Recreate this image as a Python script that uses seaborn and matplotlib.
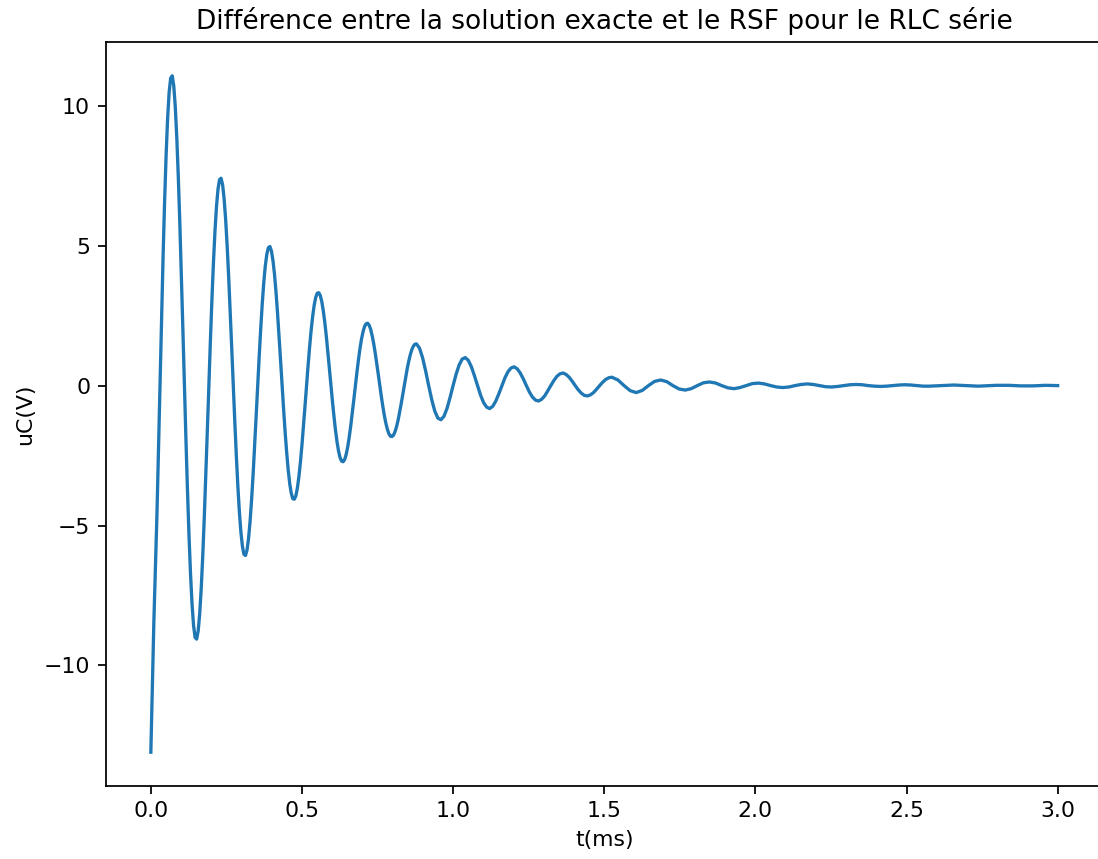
import numpy as np
import pandas as pd
import matplotlib
matplotlib.use("Agg")
import matplotlib.pyplot as plt
import seaborn as sns

# ---- data (t in ms, uC in V) ----
# fine sampling for the large first oscillations
dt_fine = 0.00505
t_fine_start = 0.0
uc_fine = [
    -13.1, -10.75, -8.4, -6.5, -4.6, -2.3, 0.0, 2.36, 4.57, 6.55, 8.23, 9.56, 10.49, 10.99,
    11.07, 10.72, 9.97, 8.86, 7.44, 5.78, 3.93, 1.98, 0.0, -1.93, -3.74, -5.36, -6.73, -7.82, -8.58, -9.00,
    -9.06, -8.77, -8.16, -7.25, -6.09, -4.73, -3.22, -1.62, 0.0, 1.58, 3.06, 4.38, 5.51, 6.40, 7.02, 7.36,
    7.41, 7.18, 6.68, 5.94, 4.99, 3.87, 2.63, 1.33, 0.0, -1.29, -2.50, -3.59, -4.51, -5.24, -5.75, -6.03,
    -6.07, -5.88, -5.47, -4.86, -4.08, -3.17, -2.15, -1.08, 0.0, 1.06, 2.05, 2.94, 3.69, 4.29, 4.70, 4.93,
    4.97, 4.81, 4.47, 3.98, 3.34, 2.59, 1.76, 0.89, 0.0, -0.87, -1.68, -2.40, -3.02, -3.51, -3.85, -4.04,
    -4.06, -3.94, -3.66, -3.25, -2.73, -2.12, -1.44, -0.73, 0.0, 0.71, 1.37, 1.97, 2.47, 2.87, 3.15, 3.30,
    3.32, 3.22, 3.00, 2.66, 2.24, 1.74, 1.18, 0.59, 0.0, -0.58, -1.12, -1.61, -2.02, -2.35, -2.58, -2.70,
    -2.72, -2.64, -2.45, -2.18, -1.83, -1.42, -0.97, -0.49, 0.0, 0.47, 0.92, 1.32, 1.66, 1.92, 2.11, 2.21,
    2.23, 2.16, 2.01, 1.78, 1.50, 1.16, 0.79, 0.40, 0.0, -0.39, -0.75, -1.08, -1.35, -1.57, -1.73, -1.81,
    -1.82, -1.77, -1.64, -1.46, -1.23, -0.95, -0.65, -0.33, 0.0, 0.32, 0.62, 0.88, 1.11, 1.29, 1.41, 1.48,
]
# medium sampling for the middle oscillations
dt_dense = 0.0101
t_dense_start = 0.8787
uc_dense = [
    1.49, 1.34, 1.00, 0.53, 0.0, -0.50, -0.91, -1.16, -1.22, -1.10, -0.82, -0.43, 0.0, 0.41, 0.74, 0.95,
    1.00, 0.90, 0.67, 0.35, 0.0, -0.34, -0.61, -0.77, -0.82, -0.74, -0.55, -0.29, 0.0, 0.28, 0.50, 0.63,
    0.67, 0.60, 0.45, 0.24, 0.0, -0.23, -0.41, -0.52, -0.55, -0.49, -0.37, -0.19, 0.0, 0.18, 0.33, 0.42,
    0.45, 0.40, 0.30, 0.16, 0.0, -0.15, -0.27, -0.35, -0.37, -0.33, -0.25, -0.13, 0.0, 0.12, 0.22, 0.28,
]
# coarser sampling for the small tail
dt_tail = 0.0202
t_tail_start = 1.5251
uc_tail = [
    0.30, 0.20, 0.0, -0.18, -0.25, -0.17, 0.0, 0.15,
    0.20, 0.14, 0.0, -0.12, -0.16, -0.11, 0.0, 0.10,
    0.13, 0.09, 0.0, -0.08, -0.11, -0.07, 0.0, 0.07,
    0.09, 0.06, 0.0, -0.05, -0.07, -0.05, 0.0, 0.04,
    0.06, 0.04, 0.0, -0.04, -0.05, -0.03, 0.0, 0.03,
    0.04, 0.03, 0.0, -0.02, -0.03, -0.02, 0.0, 0.02,
    0.03, 0.02, 0.0, -0.02, -0.02, -0.01, 0.0, 0.01,
    0.02, 0.01, 0.0, -0.01, -0.02, -0.01, 0.0, 0.01,
    0.01, 0.01, 0.0, -0.01, -0.01, -0.01, 0.0, 0.01,
]
t_end = [3.0]
uc_end = [0.0]

title = "Différence entre la solution exacte et le RSF pour le RLC série"
xlabel = "t(ms)"
ylabel = "uC(V)"

t_all = np.concatenate([
    t_fine_start + dt_fine * np.arange(len(uc_fine)),
    t_dense_start + dt_dense * np.arange(len(uc_dense)),
    t_tail_start + dt_tail * np.arange(len(uc_tail)),
    np.array(t_end),
])
uc_all = np.concatenate([uc_fine, uc_dense, uc_tail, uc_end])
df = pd.DataFrame({"t": t_all, "uc": uc_all})

# ---- figure ----
W, H, DPI = 1098, 859, 158
fig = plt.figure(figsize=(W / DPI, H / DPI), dpi=DPI)
left_px, right_px, top_px, bottom_px = 105.5, 1103, 42, 786
ax = fig.add_axes([left_px / W, (H - bottom_px) / H,
                   (right_px - left_px) / W, (bottom_px - top_px) / H])

sns.lineplot(data=df, x="t", y="uc", ax=ax, estimator=None, sort=False,
             color="#1f77b4", linewidth=1.5)

ax.set_title(title, fontsize=12)
ax.set_xlabel(xlabel)
ax.set_ylabel(ylabel)

fig.savefig("out.png", dpi=DPI)
